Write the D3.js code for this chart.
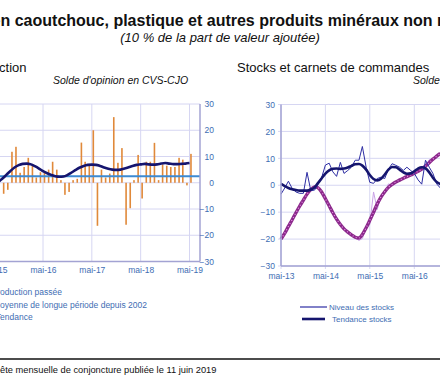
<!DOCTYPE html>
<html>
<head>
<meta charset="utf-8">
<script src="https://cdn.jsdelivr.net/npm/d3@7"></script>
<style>
    body { margin: 0; background: #fff; }
    svg { display: block; font-family: "Liberation Sans", Arial, sans-serif; }
</style>
</head>
<body>
<svg id="chart" width="440" height="382"></svg>
<script>
/**
 * Data (solde d'opinion, CVS-CJO).
 */
const prodStart = '2015-07',
    trendStart = '2015-06',
    stockStart = '2013-05';

// Production passée, monthly from Jul 2015 to May 2019
const prodPassee = [
    -4.2, -2.7, 11.8, 13.7, 3.8, 6,
    9.5, 6.9, 2, 4, 4, 5, 8, 5, 1, -4.6, -3.5, 1,
    1.5, 15.3, 8, 7, 20, -16.4, 5, 2, 3.5, 25, 7.6, 13.2,
    -16, -9.7, 1, 10.6, -6, 8, 8, 15.2, 1, 6.9, 6.5, 6,
    6, 9.5, 8.8, -1, 11
];

// Tendance, monthly from Jun 2015 to May 2019
const prodTendance = [
    0.3, 1.5, 3, 4.5, 5.8, 6.7, 7.2,
    7.3, 7.0, 6.3, 5.4, 4.4, 3.6, 3.0, 2.5, 2.3, 2.4, 3.0, 3.9,
    4.9, 5.8, 6.4, 6.8, 6.9, 6.8, 6.4, 5.8, 5.3, 5.0, 4.9, 5.0,
    5.4, 5.9, 6.4, 6.8, 7.0, 7.2, 7.0, 6.9, 7.0, 7.3, 7.5, 7.3,
    7.1, 7.1, 7.2, 7.3, 7.5
];

// Moyenne de longue période depuis 2002
const moyenneLP = 2.5;

// Stocks et carnets, monthly from May 2013
const stocksNiveau = [
    -3.3, -1, 1.5, -1.2, -2.5, -3, -3, 4.8, -2, -1.8, 0.3, 3,
    7.5, 8.2, 5, 3.3, 8.5, 4.4, 5.5, 6.7, 9.3, 9.3, 14.4, 6.7,
    1.1, 0.7, 2.5, 3, 2.5, 6, 8, 7.4, 6.7, 5.5, 6.7, 5.5,
    4.4, 2, 0.4, 9.3, 6.7, 4.4, 0.5, -1
];
const stocksTendance = [
    0.5, -0.3, -1, -1.5, -1.8, -2, -2, -2, -1.6, -0.8, 0.8, 2.6,
    4.3, 5.5, 6.1, 6.2, 6.1, 6.2, 6.6, 7.2, 7.8, 7.9, 7.3, 5.8,
    3.8, 2.3, 1.8, 2.4, 4.0, 5.8, 6.8, 6.7, 5.8, 4.8, 4.3, 4.4,
    5.2, 6.2, 6.7, 6.3, 4.8, 2.8, 1.2, 0.5
];
const carnetsNiveau = [
    -19.5, -18, -15, -13, -10.5, -7.5, -5.8, -3, -1.5, 0, -1.5, -2,
    -5.5, -7.5, -10.5, -12, -15, -15.5, -17.8, -18, -19.5, -20.5, -19.8, -16,
    -14.5, -2.5, -9, -4, -3, 0.5, 0, 1.5, 2.5, 2, 3.5, 4,
    4, 5.5, 6, 7, 9.5, 9, 11, 12
];
const carnetsTendance = [
    -20, -17.8, -15.3, -12.8, -10.2, -7.8, -5.5, -3.3, -1.6, -0.6, -0.9, -2.6,
    -5, -7.6, -10.2, -12.6, -14.6, -16.2, -17.4, -18.4, -19.3, -19.6, -18.3, -15.8,
    -13, -10, -7, -4.4, -2.4, -0.8, 0.3, 1.2, 1.9, 2.6, 3.2, 3.8,
    4.5, 5.2, 6, 7.1, 8.4, 9.7, 10.8, 11.8
];

// Axes
const yTicks = [-30, -20, -10, 0, 10, 20, 30];
const prodTicks = ['2015-05', '2016-05', '2017-05', '2018-05', '2019-05'];
const stockTicks = ['2013-05', '2014-05', '2015-05', '2016-05', '2017-05'];

/**
 * Helpers.
 */
const parseMonth = d3.timeParse('%Y-%m'),
    monthLabel = d => 'mai-' + d3.timeFormat('%y')(d);

function monthly(start, values) {
    const t0 = parseMonth(start);
    return values.map((v, i) => ({ date: d3.timeMonth.offset(t0, i), value: v }));
}

// Places a text so that the part after `prefix` starts at x (the rest is cut by the frame)
function cutText(parent, full, prefix, x, y, style) {
    const t = parent.append('text').attr('x', 0).attr('y', y).text(full);
    if (style) style(t);
    const w = prefix.length ? t.node().getSubStringLength(0, prefix.length) : 0;
    t.attr('x', x - w);
    return t;
}

const svg = d3.select('#chart');

const gridColor = '#d6d6f2',
    axisColor = '#a3a3d3',
    labelColor = '#3e6db3',
    navy = '#15156e';

/**
 * Titles.
 */
cutText(svg, 'Fabrication de produits en caoutchouc, plastique et autres produits minéraux non métalliques',
    'Fabrication de produits e', 0.5, 26,
    t => t.attr('font-size', 16).attr('font-weight', 'bold').attr('fill', '#111'));
svg.append('text').attr('x', 220).attr('y', 42).attr('text-anchor', 'middle')
    .attr('font-size', 13).attr('font-style', 'italic').attr('fill', '#111')
    .text('(10 % de la part de valeur ajoutée)');

svg.append('text').attr('x', 26.5).attr('y', 72).attr('text-anchor', 'end')
    .attr('font-size', 13).attr('fill', '#111').text('Production');
svg.append('text').attr('x', 237).attr('y', 72)
    .attr('font-size', 13).attr('fill', '#111').text('Stocks et carnets de commandes');
[53, 413].forEach(x => {
    svg.append('text').attr('x', x).attr('y', 83.5)
        .attr('font-size', 10.5).attr('font-style', 'italic').attr('fill', '#111')
        .text('Solde d\'opinion en CVS-CJO');
});

/**
 * Left chart: production.
 */
const xL = d3.scaleTime().domain([parseMonth('2016-05'), parseMonth('2019-05')]).range([43, 189.5]),
    yL = d3.scaleLinear().domain([-30, 30]).range([261.5, 104]);
const left = { x0: -20, x1: 200 };

const gL = svg.append('g').attr('class', 'prod');

gL.append('g').selectAll('line.h').data(yTicks).join('line')
    .attr('x1', left.x0).attr('x2', left.x1)
    .attr('y1', d => yL(d)).attr('y2', d => yL(d))
    .attr('stroke', gridColor).attr('stroke-width', 1);
gL.append('g').selectAll('line.v').data(prodTicks.map(parseMonth)).join('line')
    .attr('x1', d => xL(d)).attr('x2', d => xL(d))
    .attr('y1', yL(30)).attr('y2', yL(-30))
    .attr('stroke', gridColor).attr('stroke-width', 1);

const prodData = monthly(prodStart, prodPassee);
gL.append('g').selectAll('rect').data(prodData).join('rect')
    .attr('x', d => xL(d3.timeDay.offset(d.date, 11)) - 0.8)
    .attr('width', 1.6)
    .attr('y', d => yL(Math.max(0, d.value)))
    .attr('height', d => Math.abs(yL(d.value) - yL(0)))
    .attr('fill', '#e0893a');

gL.append('line')
    .attr('x1', left.x0).attr('x2', left.x1)
    .attr('y1', yL(moyenneLP)).attr('y2', yL(moyenneLP))
    .attr('stroke', '#3d8ad2').attr('stroke-width', 2);

gL.append('path').datum(monthly(trendStart, prodTendance))
    .attr('fill', 'none').attr('stroke', navy).attr('stroke-width', 2.6)
    .attr('d', d3.line().x(d => xL(d.date)).y(d => yL(d.value)).curve(d3.curveMonotoneX));

// Axes
gL.append('line').attr('x1', left.x1).attr('x2', left.x1).attr('y1', yL(30)).attr('y2', yL(-30))
    .attr('stroke', axisColor).attr('stroke-width', 1.5);
gL.append('line').attr('x1', left.x0).attr('x2', left.x1).attr('y1', yL(-30)).attr('y2', yL(-30))
    .attr('stroke', axisColor).attr('stroke-width', 1.5);

const yAxisL = gL.append('g').attr('transform', 'translate(' + left.x1 + ',0)')
    .call(d3.axisRight(yL).tickValues(yTicks).tickSize(0).tickPadding(0))
    .attr('font-family', null);
yAxisL.select('.domain').remove();
yAxisL.selectAll('text').attr('x', 14).attr('text-anchor', 'end')
    .attr('fill', labelColor).attr('font-size', 8.5);

const xAxisL = gL.append('g').attr('transform', 'translate(0,' + yL(-30) + ')')
    .call(d3.axisBottom(xL).tickValues(prodTicks.map(parseMonth)).tickFormat(monthLabel)
        .tickSize(0).tickPadding(5.5))
    .attr('font-family', null);
xAxisL.select('.domain').remove();
xAxisL.selectAll('text').attr('fill', labelColor).attr('font-size', 8.5);

/**
 * Right chart: stocks and order books.
 */
const xR = d3.scaleTime().domain([parseMonth('2013-05'), parseMonth('2016-05')]).range([281, 414.3]),
    yR = d3.scaleLinear().domain([-30, 30]).range([266, 104.5]);
const right = { x0: 281, x1: 470 };

const gR = svg.append('g').attr('class', 'stocks');

gR.append('g').selectAll('line').data(yTicks).join('line')
    .attr('x1', right.x0 - 3).attr('x2', right.x1)
    .attr('y1', d => yR(d)).attr('y2', d => yR(d))
    .attr('stroke', gridColor).attr('stroke-width', 1);
gR.append('g').selectAll('line').data(stockTicks.map(parseMonth)).join('line')
    .attr('x1', d => xR(d)).attr('x2', d => xR(d))
    .attr('y1', yR(30)).attr('y2', yR(-30) + 3)
    .attr('stroke', gridColor).attr('stroke-width', 1);

const lineR = d3.line().x(d => xR(d.date)).y(d => yR(d.value));

gR.append('path').datum(monthly(stockStart, carnetsNiveau))
    .attr('fill', 'none').attr('stroke', '#c9a2e6').attr('stroke-width', 1)
    .attr('d', lineR);
const carnetsT = monthly(stockStart, carnetsTendance);
gR.append('path').datum(carnetsT)
    .attr('fill', 'none').attr('stroke', '#8c2a8c').attr('stroke-width', 3.4)
    .attr('d', lineR.curve(d3.curveMonotoneX));
gR.append('path').datum(carnetsT)
    .attr('fill', 'none').attr('stroke', '#e792e7').attr('stroke-width', 1.2)
    .attr('stroke-dasharray', '1,2.5')
    .attr('d', lineR);

gR.append('path').datum(monthly(stockStart, stocksNiveau))
    .attr('fill', 'none').attr('stroke', '#2d2da3').attr('stroke-width', 1)
    .attr('d', lineR.curve(d3.curveLinear));
gR.append('path').datum(monthly(stockStart, stocksTendance))
    .attr('fill', 'none').attr('stroke', navy).attr('stroke-width', 2.6)
    .attr('d', lineR.curve(d3.curveMonotoneX));

gR.append('line').attr('x1', right.x0).attr('x2', right.x0).attr('y1', yR(30)).attr('y2', yR(-30))
    .attr('stroke', axisColor).attr('stroke-width', 1.5);
gR.append('line').attr('x1', right.x0).attr('x2', right.x1).attr('y1', yR(-30)).attr('y2', yR(-30))
    .attr('stroke', axisColor).attr('stroke-width', 1.5);

const yAxisR = gR.append('g').attr('transform', 'translate(' + right.x0 + ',0)')
    .call(d3.axisLeft(yR).tickValues(yTicks).tickSize(0).tickPadding(6))
    .attr('font-family', null);
yAxisR.select('.domain').remove();
yAxisR.selectAll('text').attr('fill', labelColor).attr('font-size', 8.5);

const xAxisR = gR.append('g').attr('transform', 'translate(0,' + yR(-30) + ')')
    .call(d3.axisBottom(xR).tickValues(stockTicks.map(parseMonth)).tickFormat(monthLabel)
        .tickSize(0).tickPadding(7))
    .attr('font-family', null);
xAxisR.select('.domain').remove();
xAxisR.selectAll('text').attr('fill', labelColor).attr('font-size', 8.5);

/**
 * Legends.
 */
const legL = svg.append('g').attr('font-size', 8.5).attr('fill', labelColor);
cutText(legL, 'Production passée', 'Pr', 0, 295);
cutText(legL, 'Moyenne de longue période depuis 2002', 'M', 0, 307.5);
cutText(legL, 'Tendance', 'T', 0, 320);

const legR = svg.append('g');
legR.append('line').attr('x1', 300).attr('x2', 327).attr('y1', 307).attr('y2', 307)
    .attr('stroke', '#2d2da3').attr('stroke-width', 1.2);
legR.append('line').attr('x1', 302).attr('x2', 325).attr('y1', 319).attr('y2', 319)
    .attr('stroke', navy).attr('stroke-width', 2.6);
legR.append('text').attr('x', 329).attr('y', 310).attr('font-size', 8).attr('fill', labelColor)
    .text('Niveau des stocks');
legR.append('text').attr('x', 332).attr('y', 322).attr('font-size', 8).attr('fill', labelColor)
    .text('Tendance stocks');

/**
 * Source.
 */
svg.append('line').attr('x1', 0).attr('x2', 440).attr('y1', 359).attr('y2', 359)
    .attr('stroke', '#111').attr('stroke-width', 1.5);
cutText(svg, 'Source : Banque de France – Enquête mensuelle de conjoncture publiée le 11 juin 2019',
    'Source : Banque de France – Enqu', 0, 372.5,
    t => t.attr('font-size', 9.3).attr('fill', '#111'));
</script>
</body>
</html>
